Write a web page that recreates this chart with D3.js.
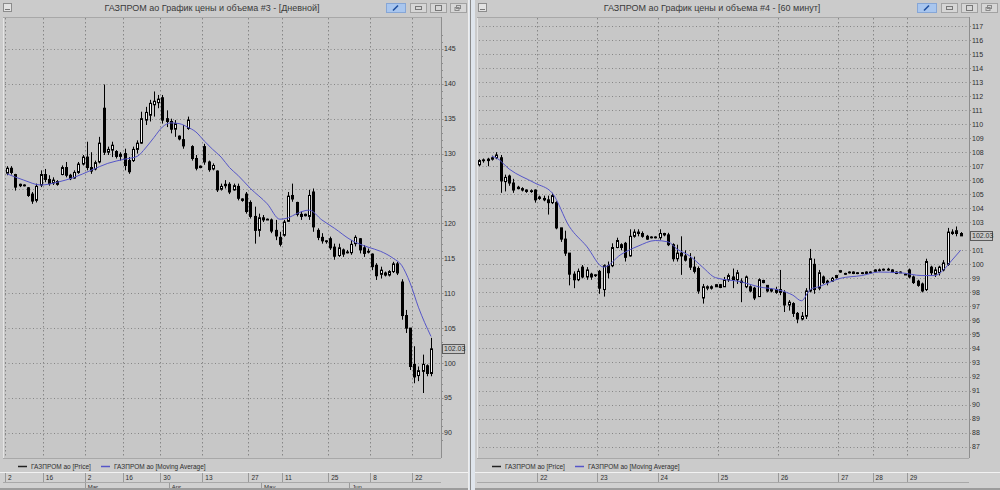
<!DOCTYPE html>
<html>
<head>
<meta charset="utf-8">
<script src="https://cdn.jsdelivr.net/npm/d3@7"></script>
<style>
  body { margin: 0; background: #cacaca; }
  svg { display: block; font-family: "Liberation Sans", Arial, sans-serif; }
</style>
</head>
<body>
<svg id="chart" width="1000" height="490"></svg>
<script>
// ---- daily chart (#3) ----
const dayOpen  = [127.2,127.9,127.0,125.4,125.5,125.1,124.2,123.3,125.5,127.0,126.3,125.8,126.0,127.0,128.0,126.9,126.5,127.3,128.5,129.5,128.0,127.8,128.8,136.5,130.2,130.5,130.3,129.6,130.0,129.0,129.0,130.6,131.5,134.8,135.5,137.0,137.3,138.0,135.0,134.6,133.5,132.5,132.0,133.6,131.0,129.3,128.0,131.0,128.8,127.8,127.5,124.9,125.4,125.6,124.8,125.3,123.5,124.2,123.0,121.0,119.0,120.8,120.6,120.5,119.0,118.0,118.3,120.3,124.0,123.0,121.3,121.1,121.0,124.5,119.0,118.0,117.4,117.8,116.6,115.4,116.2,115.9,115.8,117.1,117.8,116.5,116.0,115.6,114.0,112.7,112.9,112.6,113.1,114.2,111.6,106.8,105.0,99.8,98.2,98.8,99.6,98.5];
const dayHigh  = [128.2,128.2,127.1,125.7,125.6,125.2,124.5,125.7,127.6,127.8,126.9,126.6,126.2,128.3,128.8,127.1,127.6,128.8,129.8,131.7,130.2,129.0,132.4,139.9,131.0,131.7,130.5,130.2,130.7,129.5,131.0,131.9,136.0,136.7,137.7,138.9,138.4,138.4,136.2,135.0,134.8,132.6,134.1,135.3,131.2,129.8,128.3,131.4,129.0,128.6,127.6,125.7,126.2,125.9,125.7,125.7,123.6,124.5,123.3,122.4,121.4,121.2,120.7,120.7,120.5,118.8,120.5,124.5,125.7,123.1,121.7,121.4,124.8,125.0,119.3,118.6,117.6,118.1,117.1,117.1,116.4,116.2,117.6,118.3,117.9,116.9,116.4,115.7,114.3,113.8,113.1,113.3,114.5,114.5,112.0,107.6,105.0,102.4,99.5,101.2,99.8,103.6];
const dayLow   = [126.9,127.0,124.7,125.2,125.3,123.8,122.8,123.0,125.2,125.9,125.4,125.5,125.4,126.9,126.6,126.2,126.4,127.1,128.3,127.6,127.1,127.6,128.6,129.8,129.8,129.5,129.3,129.0,127.6,127.1,128.8,130.0,131.4,134.1,134.6,135.3,136.5,134.3,133.8,132.9,132.4,131.9,130.7,133.4,129.0,127.6,127.9,128.4,127.4,127.6,124.5,124.7,125.0,124.2,124.7,123.3,123.1,121.4,120.7,117.1,118.1,120.2,120.5,118.6,117.6,116.7,118.1,120.2,123.1,121.0,120.5,121.0,120.5,118.8,117.6,117.1,117.1,116.2,114.8,115.2,115.2,115.7,115.5,116.7,115.7,115.2,115.7,113.3,111.9,112.1,112.4,112.4,112.9,112.6,106.2,104.3,99.0,97.1,97.4,95.7,98.1,98.1];
const dayClose = [127.9,127.3,125.2,125.6,125.4,124.0,123.2,125.3,127.0,126.3,125.7,126.2,125.6,128.0,126.9,126.4,127.3,128.5,129.5,128.0,127.5,128.7,131.5,130.2,130.6,131.2,129.6,129.9,128.3,127.4,130.6,131.5,135.0,135.9,137.2,137.5,137.8,134.8,134.6,133.5,134.3,132.1,131.1,134.8,129.3,127.9,128.2,128.8,127.7,128.3,124.8,125.3,125.6,124.5,125.4,123.6,123.3,121.7,121.0,119.0,120.8,120.5,120.6,118.9,118.2,117.0,120.2,123.9,123.5,121.3,121.0,121.3,124.0,119.5,118.0,117.5,117.5,116.5,115.3,116.5,115.6,115.8,117.0,118.0,116.2,115.7,115.9,113.8,112.5,113.3,112.6,113.1,114.2,112.9,106.8,105.0,99.5,98.0,98.9,99.8,98.5,102.03];
const dayMA = [[0,127.1],[4,126.2],[8,125.5],[12,125.9],[16,126.6],[20,127.6],[24,128.6],[28,129.2],[31,129.6],[33,130.8],[35,132.3],[37,133.8],[39,134.4],[41,134.3],[43,133.8],[45,133.1],[47,131.8],[49,130.6],[51,129.5],[53,128.0],[55,126.9],[58,125.0],[62,122.8],[65,120.6],[67,120.8],[69,121.4],[72,121.9],[75,120.5],[78,119.3],[82,117.6],[86,116.6],[89,116.0],[92,115.0],[94,114.0],[96,111.5],[98,108.0],[101,103.8]];
const dayPriceTicks = [90,95,100,105,110,115,120,125,130,135,140,145];
const dayTicks = [0,9,19,28,37,47,58,66,77,87,97];
const dayTickLabels = ["2","16","2","16","30","13","27","11","25","8","22"];
const monthTicks = [19,39,61,82];
const monthLabels = ["Mar","Apr","May","Jun"];

// ---- hourly chart (#4) ----
const hourOpen  = [107.1,107.4,107.4,107.5,107.6,107.6,105.9,106.3,105.8,105.5,105.4,105.3,105.2,105.3,104.8,104.7,104.6,104.4,104.4,102.6,101.8,100.8,99.3,98.9,99.8,99.1,99.3,99.2,99.5,98.2,99.9,99.9,101.2,101.4,101.5,100.6,102.0,102.3,102.2,102.0,101.9,101.9,101.9,102.2,102.1,101.4,100.4,100.8,100.6,100.4,99.8,99.7,97.6,98.3,98.4,98.4,98.55,98.4,98.9,99.1,98.9,98.8,98.4,98.4,98.3,97.7,98.85,98.5,98.1,98.2,98.2,98.0,97.1,97.2,96.5,96.1,96.3,98.1,100.0,98.3,99.1,98.7,98.8,99.05,99.45,99.35,99.4,99.45,99.35,99.4,99.35,99.4,99.5,99.6,99.6,99.65,99.6,99.45,99.45,99.3,99.6,99.1,98.8,98.6,98.2,99.8,99.3,99.4,99.6,100.0,102.3,102.2,102.2];
const hourHigh  = [107.5,107.55,107.6,107.75,108.0,107.8,106.4,106.4,106.1,105.6,105.5,105.35,105.35,105.35,104.9,104.9,104.9,105.1,104.5,102.6,102.4,100.8,99.5,99.7,99.95,99.8,99.4,99.3,99.6,100.0,100.2,101.5,101.9,101.5,101.6,102.5,102.5,102.5,102.35,102.1,102.0,102.0,102.5,102.25,102.25,101.5,101.4,102.0,101.0,100.8,100.55,99.85,98.6,98.5,98.5,98.6,98.6,99.1,99.35,99.7,99.6,99.0,99.2,98.5,98.4,99.0,98.9,98.5,98.3,98.4,99.6,98.15,97.45,97.3,96.6,96.6,98.3,101.1,100.4,99.6,99.2,98.9,99.1,99.25,99.6,99.4,99.5,99.5,99.45,99.45,99.5,99.5,99.65,99.7,99.7,99.75,99.65,99.5,99.5,99.35,99.7,99.2,98.9,98.7,100.4,99.9,99.8,99.9,100.3,102.6,102.5,102.7,102.3];
const hourLow   = [107.0,107.25,107.0,107.4,107.5,105.1,105.2,105.6,105.1,105.35,105.2,105.1,105.1,104.4,104.6,104.5,103.55,104.3,102.5,101.6,100.6,98.5,98.3,98.8,99.0,98.9,98.9,99.1,97.9,97.7,99.0,99.8,101.15,101.0,100.2,100.55,101.9,102.0,101.9,101.75,101.85,101.85,101.75,102.0,101.3,100.2,100.2,99.25,100.2,99.6,99.35,97.9,97.2,98.15,98.2,98.4,98.3,98.4,98.75,98.3,98.6,97.3,98.3,98.0,97.45,97.7,98.65,98.0,98.0,97.9,97.8,96.6,96.7,96.25,95.8,96.0,96.1,98.0,97.9,98.15,98.6,98.5,98.75,99.0,99.4,99.25,99.35,99.3,99.3,99.3,99.3,99.35,99.45,99.5,99.55,99.55,99.4,99.3,99.4,99.25,99.0,98.6,98.4,98.0,98.1,99.2,99.1,99.2,99.5,99.9,102.1,102.0,102.1];
const hourClose = [107.4,107.45,107.5,107.6,107.8,105.95,106.2,105.8,105.3,105.4,105.3,105.2,105.25,104.6,104.7,104.6,104.4,104.9,102.6,101.8,100.8,99.3,98.9,99.5,99.1,99.6,99.1,99.25,98.3,99.9,99.4,101.2,101.7,101.2,100.5,102.0,102.3,102.2,102.0,101.8,101.95,101.95,102.2,102.1,101.4,100.4,100.8,100.6,100.3,99.8,99.5,98.1,98.4,98.4,98.3,98.55,98.35,98.9,99.2,98.9,99.4,98.7,99.1,98.1,97.6,98.9,98.7,98.1,98.2,98.0,98.0,97.1,97.3,96.5,96.1,96.3,98.1,100.4,98.2,99.4,98.7,98.8,99.0,99.2,99.55,99.3,99.45,99.35,99.4,99.35,99.45,99.45,99.6,99.55,99.65,99.6,99.45,99.35,99.45,99.3,99.1,98.7,98.5,98.1,100.2,99.4,99.6,99.8,100.1,102.3,102.2,102.4,102.03];
const hourMA = [[3,107.7],[4,107.6],[7,106.8],[13,105.8],[17,105.1],[21,102.7],[25,101.3],[29,99.8],[33,100.7],[37,101.3],[41,101.7],[44,101.6],[46,101.1],[49,100.6],[52,99.8],[55,99.05],[61,98.75],[65,98.4],[70,98.15],[73,97.8],[75,97.4],[77,98.2],[79,98.4],[84,99.0],[89,99.2],[93,99.45],[98,99.4],[103,99.2],[106,99.2],[108,99.6],[110,100.3],[112,101.0]];
const hourPriceTicks = [87,88,89,90,91,92,93,94,95,96,97,98,99,100,101,103,104,105,106,107,108,109,110,111,112,113,114,115,116,117];
const hourTicks = [14,28,42,56,70,84,92,100];
const hourTickLabels = ["22","23","24","25","26","27","28","29"];

const chromeBg = "#cbcbcb";
const plotBg = "#c7c7c7";
const gridCol = "#868686";
const maCol = "#5656c8";
const textCol = "#2e2e2e";

const svg = d3.select("#chart");
svg.append("rect").attr("width", 1000).attr("height", 490).attr("fill", chromeBg);

function drawPanel(p) {
  const g = svg.append("g");
  const x = d3.scaleLinear().domain([0, p.open.length - 1]).range(p.xRange);
  const y = d3.scaleLinear().domain(p.yDomain).range(p.yRange);

  // window background and title
  g.append("rect").attr("x", p.x0).attr("y", 0).attr("width", p.x1 - p.x0).attr("height", 490).attr("fill", chromeBg);
  g.append("text").attr("x", p.titleX).attr("y", 10.5).attr("text-anchor", "middle")
    .attr("font-size", 9).attr("fill", "#3a3a3a").text(p.title);

  // small window icon
  g.append("rect").attr("x", p.x0 + 3.5).attr("y", 3.5).attr("width", 8).attr("height", 8)
    .attr("fill", "#e2e2e2").attr("stroke", "#8c8c8c");
  g.append("line").attr("x1", p.x0 + 5).attr("x2", p.x0 + 10).attr("y1", 9.5).attr("y2", 9.5).attr("stroke", "#777");

  // title bar buttons
  const b = p.btnX;
  g.append("rect").attr("x", b + 0.5).attr("y", 3.5).attr("width", 19).attr("height", 9)
    .attr("fill", "#a9c6ee").attr("stroke", "#86a6d6");
  g.append("line").attr("x1", b + 7).attr("y1", 10.5).attr("x2", b + 12).attr("y2", 5.5)
    .attr("stroke", "#1f4f9f").attr("stroke-width", 1.6);
  [24, 44, 64].forEach((dx, k) => {
    g.append("rect").attr("x", b + dx + 0.5).attr("y", 3.5).attr("width", 16).attr("height", 9)
      .attr("fill", "#d6d6d6").attr("stroke", "#a2a2a2");
    const cx = b + dx + 8.5;
    if (k === 0) g.append("rect").attr("x", cx - 3).attr("y", 6.5).attr("width", 6).attr("height", 3).attr("fill", "none").attr("stroke", "#777");
    if (k === 1) g.append("rect").attr("x", cx - 3).attr("y", 5.5).attr("width", 6).attr("height", 5).attr("fill", "none").attr("stroke", "#777");
    if (k === 2) {
      g.append("rect").attr("x", cx - 2).attr("y", 5.5).attr("width", 4).attr("height", 3).attr("fill", "none").attr("stroke", "#888");
      g.append("rect").attr("x", cx - 3.5).attr("y", 7.5).attr("width", 4).attr("height", 3).attr("fill", "none").attr("stroke", "#888");
    }
  });

  // plot area
  g.append("rect").attr("x", p.plotL).attr("y", p.plotT).attr("width", p.plotR - p.plotL).attr("height", p.plotB - p.plotT)
    .attr("fill", plotBg);
  g.append("line").attr("x1", p.plotL + 0.5).attr("x2", p.plotL + 0.5).attr("y1", p.plotT).attr("y2", p.plotB)
    .attr("stroke", "#e4e4e4");
  g.append("line").attr("x1", p.plotL).attr("x2", p.plotR).attr("y1", p.plotT + 0.5).attr("y2", p.plotT + 0.5)
    .attr("stroke", "#a8a8a8");
  g.append("line").attr("x1", p.plotL).attr("x2", p.plotR).attr("y1", p.plotB + 0.5).attr("y2", p.plotB + 0.5)
    .attr("stroke", "#a8a8a8");

  // horizontal grid
  g.selectAll(null).data(p.priceTicks).join("line")
    .attr("x1", p.plotL + 2).attr("x2", p.plotR + 3)
    .attr("y1", d => Math.round(y(d)) + 0.5).attr("y2", d => Math.round(y(d)) + 0.5)
    .attr("stroke", gridCol).attr("stroke-dasharray", "1,2.5");

  // vertical grid at date ticks
  g.selectAll(null).data(p.ticks).join("line")
    .attr("x1", d => Math.round(x(d)) - 1.5).attr("x2", d => Math.round(x(d)) - 1.5)
    .attr("y1", p.plotT + 1).attr("y2", p.plotB)
    .attr("stroke", gridCol).attr("stroke-dasharray", "1.5,2.5");

  // price axis line and small ticks
  g.append("line").attr("x1", p.plotR + 0.5).attr("x2", p.plotR + 0.5).attr("y1", p.plotT).attr("y2", p.plotB)
    .attr("stroke", "#8e8e8e");
  g.selectAll(null).data(d3.range(p.yDomain[0] - 1, p.yDomain[1] + 3)).join("line")
    .attr("x1", p.plotR).attr("x2", p.plotR + 2)
    .attr("y1", d => Math.round(y(d)) + 0.5).attr("y2", d => Math.round(y(d)) + 0.5)
    .attr("stroke", "#8e8e8e")
    .attr("display", d => (y(d) > p.plotT && y(d) < p.plotB) ? null : "none");
  g.selectAll(null).data(p.priceTicks).join("text")
    .attr("x", p.plotR + 3).attr("y", d => y(d) + 2.5)
    .attr("font-size", 7).attr("fill", textCol).text(d => d);

  // last price box
  const last = p.close[p.close.length - 1];
  const ly = y(last);
  g.append("rect").attr("x", p.plotR + 1.5).attr("y", Math.round(ly) - 4.5).attr("width", 22).attr("height", 9)
    .attr("fill", plotBg).attr("stroke", "#5a5a5a");
  g.append("text").attr("x", p.plotR + 3).attr("y", ly + 2.5).attr("font-size", 7).attr("fill", textCol)
    .text(last.toFixed(2));

  // candles
  const idx = d3.range(p.open.length);
  const cg = g.append("g");
  cg.selectAll("line").data(idx).join("line")
    .attr("x1", i => Math.round(x(i)) + 0.5).attr("x2", i => Math.round(x(i)) + 0.5)
    .attr("y1", i => y(p.high[i])).attr("y2", i => y(p.low[i]))
    .attr("stroke", "#000");
  cg.selectAll("rect").data(idx).join("rect")
    .attr("x", i => Math.round(x(i)) - 0.5)
    .attr("y", i => y(Math.max(p.open[i], p.close[i])))
    .attr("width", 2)
    .attr("height", i => Math.max(0.8, Math.abs(y(p.open[i]) - y(p.close[i]))))
    .attr("fill", i => p.close[i] >= p.open[i] ? "#f4f4f4" : "#000")
    .attr("stroke", "#000").attr("stroke-width", 1);

  // moving average
  g.append("path").datum(p.ma)
    .attr("fill", "none").attr("stroke", maCol).attr("stroke-width", 1)
    .attr("d", d3.line().x(d => x(d[0])).y(d => y(d[1])).curve(d3.curveMonotoneX));

  // legend
  const lg = p.legendX;
  g.append("line").attr("x1", lg).attr("x2", lg + 9).attr("y1", 466.5).attr("y2", 466.5).attr("stroke", "#222").attr("stroke-width", 1.5);
  g.append("text").attr("x", lg + 13).attr("y", 469).attr("font-size", 6.5).attr("fill", textCol).text("ГАЗПРОМ ао [Price]");
  g.append("line").attr("x1", lg + 83).attr("x2", lg + 92).attr("y1", 466.5).attr("y2", 466.5).attr("stroke", maCol).attr("stroke-width", 1.5);
  g.append("text").attr("x", lg + 96).attr("y", 469).attr("font-size", 6.5).attr("fill", textCol).text("ГАЗПРОМ ао [Moving Average]");

  // date axis
  g.append("rect").attr("x", p.x0).attr("y", 472).attr("width", p.x1 - p.x0).attr("height", 16).attr("fill", "#d0d0d0");
  g.append("line").attr("x1", p.x0).attr("x2", p.x1).attr("y1", 472.5).attr("y2", 472.5).attr("stroke", "#f2f2f2");
  g.append("line").attr("x1", p.plotL).attr("x2", p.plotR).attr("y1", 482.5).attr("y2", 482.5).attr("stroke", "#a8a8a8");
  g.selectAll(null).data(p.ticks).join("line")
    .attr("x1", d => Math.round(x(d)) - 1.5).attr("x2", d => Math.round(x(d)) - 1.5)
    .attr("y1", 473).attr("y2", 482).attr("stroke", "#9a9a9a");
  g.selectAll(null).data(p.ticks).join("text")
    .attr("x", d => x(d) + 1).attr("y", 480)
    .attr("font-size", 6.5).attr("fill", textCol).text((d, k) => p.tickLabels[k]);
  if (p.months) {
    g.selectAll(null).data(p.months).join("line")
      .attr("x1", d => Math.round(x(d)) - 1.5).attr("x2", d => Math.round(x(d)) - 1.5)
      .attr("y1", 483).attr("y2", 488).attr("stroke", "#9a9a9a");
    g.selectAll(null).data(p.months).join("text")
      .attr("x", d => x(d) + 1).attr("y", 488.5)
      .attr("font-size", 6).attr("fill", textCol).text((d, k) => p.monthLabels[k]);
  }
  g.append("rect").attr("x", p.x0).attr("y", 488).attr("width", p.x1 - p.x0).attr("height", 2).attr("fill", "#9c9c9c");
}

drawPanel({
  x0: 0, x1: 469, title: "ГАЗПРОМ ао График цены и объема #3 - [Дневной]", titleX: 212, btnX: 386,
  plotL: 3, plotR: 441, plotT: 17, plotB: 458,
  xRange: [7, 431], yDomain: [90, 145], yRange: [432.8, 48.9],
  open: dayOpen, high: dayHigh, low: dayLow, close: dayClose, ma: dayMA,
  priceTicks: dayPriceTicks, ticks: dayTicks, tickLabels: dayTickLabels,
  months: monthTicks, monthLabels: monthLabels, legendX: 18
});

drawPanel({
  x0: 475, x1: 1000, title: "ГАЗПРОМ ао График цены и объема #4 - [60 минут]", titleX: 712, btnX: 917,
  plotL: 477, plotR: 969, plotT: 17, plotB: 458,
  xRange: [479, 960.6], yDomain: [87, 117], yRange: [446.6, 26],
  open: hourOpen, high: hourHigh, low: hourLow, close: hourClose, ma: hourMA,
  priceTicks: hourPriceTicks, ticks: hourTicks, tickLabels: hourTickLabels,
  legendX: 492
});

// divider between the two windows
svg.append("rect").attr("x", 469).attr("y", 0).attr("width", 6).attr("height", 490).attr("fill", "#dfe5ec");
svg.append("line").attr("x1", 470.5).attr("x2", 470.5).attr("y1", 0).attr("y2", 490).attr("stroke", "#8a8a8a");
svg.append("line").attr("x1", 468.5).attr("x2", 468.5).attr("y1", 0).attr("y2", 490).attr("stroke", "#eeeeee");
</script>
</body>
</html>
